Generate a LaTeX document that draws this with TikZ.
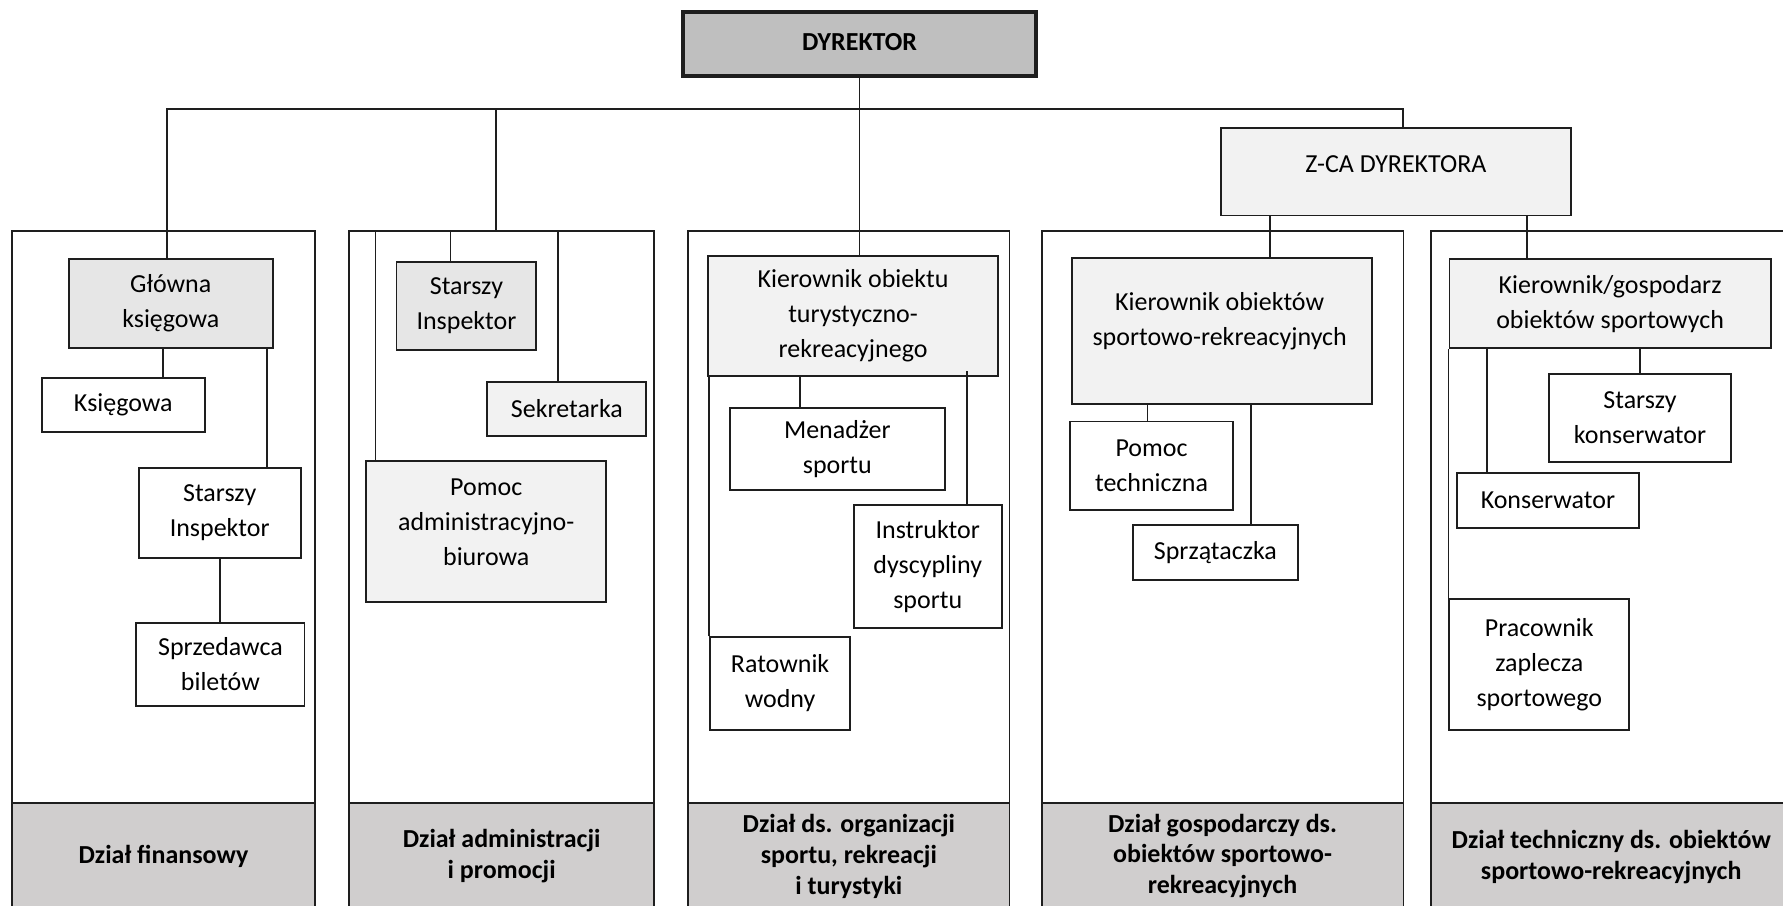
\documentclass[tikz,border=0pt]{standalone}
\usepackage{fontspec}
\setmainfont{Carlito}
\definecolor{gA}{HTML}{E6E6E6}
\definecolor{gB}{HTML}{F2F2F2}
\definecolor{gDyr}{HTML}{BFBFBF}
\definecolor{gBand}{HTML}{D0CECE}
\definecolor{ln}{HTML}{1E1E1E}
\begin{document}
\begin{tikzpicture}[x=0.5pt,y=-0.5pt,
  every path/.style={draw=ln, line width=0.95pt},
  box/.style={draw=ln, line width=0.95pt, fill=white, inner sep=0pt, align=center,
    font=\fontsize{13}{17.5}\selectfont},
  dept/.style={draw=ln, line width=0.95pt, inner sep=0pt},
  band/.style={draw=ln, line width=0.95pt, fill=gBand, inner sep=0pt, align=center,
    font=\bfseries\fontsize{13}{15.5}\selectfont},
  txt/.style={inner sep=0pt, align=center, font=\fontsize{13}{17.5}\selectfont}]
\useasboundingbox (0,0) rectangle (1783,905);
\fill[white] (0,0) rectangle (1783,905);

% departments
\node[dept, minimum width=151.25pt, minimum height=344.65pt] (d1) at (162.75,575.35) {};
\node[dept, minimum width=152.75pt, minimum height=344.65pt] (d2) at (501.25,575.35) {};
\node[dept, minimum width=160.8pt, minimum height=344.65pt] (d3) at (848.8,575.35) {};
\node[dept, minimum width=181.1pt, minimum height=344.65pt] (d4) at (1222.9,575.35) {};
\node[dept, minimum width=184.15pt, minimum height=344.65pt] (d5) at (1615.85,575.35) {};

% bands
\node[band, minimum width=151.25pt, minimum height=53pt] (b1) at (162.75,856) {Dział finansowy};
\node[band, minimum width=152.75pt, minimum height=53pt] (b2) at (501.25,856) {Dział administracji\\i promocji};
\node[band, minimum width=160.8pt, minimum height=53pt] (b3) at (848.8,856) {Dział ds. organizacji\\sportu, rekreacji\\i turystyki};
\node[band, minimum width=181.1pt, minimum height=53pt] (b4) at (1222.9,856) {Dział gospodarczy ds.\\obiektów sportowo-\\rekreacyjnych};
\node[band, minimum width=184.15pt, minimum height=53pt, text width=170pt] (b5) at (1615.85,856) {};
\node[txt, font=\bfseries\fontsize{13}{15.5}\selectfont] (b5t) at (1612,857) {Dział techniczny ds. obiektów\\sportowo-rekreacyjnych};

% top level
\node[box, fill=gDyr, line width=2pt, minimum width=176.5pt, minimum height=32pt,
  font=\bfseries\fontsize{13}{17.5}\selectfont] (dyr) at (859.5,43) {\raisebox{1.5pt}{DYREKTOR}};
\node[box, fill=gB, minimum width=175pt, minimum height=44pt] (zca) at (1396.5,170.8) {};
\node[txt] (zcat) at (1396.5,163) {Z-CA DYREKTORA};

% D1
\node[box, fill=gA, minimum width=102pt, minimum height=44.3pt] (glowna) at (170,303) {Główna\\księgowa};
\node[box, minimum width=81.5pt, minimum height=27.3pt] (ksieg) at (122.5,404.3) {Księgowa};
\node[box, minimum width=81pt, minimum height=45pt] (starszyA) at (219,512.3) {Starszy\\Inspektor};
\node[box, minimum width=84.2pt, minimum height=41.5pt] (sprzed) at (219.7,664.2) {Sprzedawca\\biletów};

% D2
\node[box, fill=gA, minimum width=70pt, minimum height=44.2pt] (starszyB) at (466,305.2) {Starszy\\Inspektor};
\node[box, fill=gB, minimum width=79.5pt, minimum height=27.3pt] (sekr) at (566.5,408.3) {Sekretarka};
\node[box, fill=gB, minimum width=120.2pt, minimum height=70.5pt] (pomadm) at (485.8,531.2) {};
\node[txt] (pomadmt) at (485.8,521.7) {Pomoc\\administracyjno-\\biurowa};

% D3
\node[box, fill=gB, minimum width=145pt, minimum height=60.2pt] (kierob) at (853,315.5) {Kierownik obiektu\\turystyczno-\\rekreacyjnego};
\node[box, minimum width=107.7pt, minimum height=41pt] (menad) at (837.3,448.3) {Menadżer\\sportu};
\node[box, minimum width=74.2pt, minimum height=61.3pt] (instr) at (927.8,566.3) {Instruktor\\dyscypliny\\sportu};
\node[box, minimum width=70pt, minimum height=46.3pt] (ratow) at (780,683.3) {Ratownik\\wodny};

% D4
\node[box, fill=gB, minimum width=150.3pt, minimum height=73.2pt] (kierobs) at (1222.1,330.2) {};
\node[txt] (kierobst) at (1220,321) {Kierownik obiektów\\sportowo-rekreacyjnych};
\node[box, minimum width=81.8pt, minimum height=44.2pt] (pomtech) at (1151.8,465.2) {Pomoc\\techniczna};
\node[box, minimum width=82.3pt, minimum height=27.2pt] (sprzat) at (1215.7,552.2) {Sprzątaczka};

% D5
\node[box, fill=gB, minimum width=160.8pt, minimum height=44.3pt] (kiergosp) at (1610.9,303) {Kierownik/gospodarz\\obiektów sportowych};
\node[box, minimum width=91pt, minimum height=44.2pt] (starszyK) at (1640.8,417.5) {Starszy\\konserwator};
\node[box, minimum width=91pt, minimum height=27.3pt] (konserw) at (1548.6,500) {Konserwator};
\node[box, minimum width=90pt, minimum height=65.3pt] (pracow) at (1540,664.3) {Pracownik\\zaplecza\\sportowego};

% connectors
\coordinate (busL) at (166,108.3);
\coordinate (busR) at (1403.5,108.3);
\coordinate (busB) at (496,108.3);
\draw (busL |- glowna.north) -- (busL) -- (busR) -- (busR |- zca.north);
\draw (dyr.south) -- (dyr.south |- kierob.north);
\draw (busB) -- (busB |- d2.north);
\draw ([xshift=-4pt]glowna.south) -- ([xshift=-4pt]glowna.south |- ksieg.north);
\draw ([xshift=48pt]glowna.south) -- ([xshift=48pt]glowna.south |- starszyA.north);
\draw (starszyA.south) -- (starszyA.south |- sprzed.north);
\draw ([xshift=-8pt]starszyB.north) -- ([xshift=-8pt]starszyB.north |- d2.north);
\draw ([xshift=-4.25pt]sekr.north) -- ([xshift=-4.25pt]sekr.north |- d2.north);
\draw ([xshift=5.15pt]pomadm.north west) -- ([xshift=5.15pt]pomadm.north west |- d2.north);
\draw ([xshift=-26.5pt]kierob.south) -- ([xshift=-26.5pt]kierob.south |- menad.north);
\draw ([xshift=19.85pt]instr.north) -- ([xshift=19.85pt,yshift=3pt]instr.north |- kierob.south);
\draw (ratow.north west) -- (ratow.north west |- kierob.south);
\draw ([xshift=23.95pt]kierobs.north) -- ([xshift=23.95pt]kierobs.north |- zca.south);
\draw ([xshift=-41.45pt]kiergosp.north) -- ([xshift=-41.45pt]kiergosp.north |- zca.south);
\draw ([xshift=-2pt]pomtech.north) -- ([xshift=-2pt]pomtech.north |- kierobs.south);
\draw ([xshift=17.9pt]sprzat.north) -- ([xshift=17.9pt]sprzat.north |- kierobs.south);
\draw (starszyK.north) -- (starszyK.north |- kiergosp.south);
\draw ([xshift=-30.5pt]konserw.north) -- ([xshift=-30.5pt]konserw.north |- kiergosp.south);
\draw (pracow.north west) -- (pracow.north west |- kiergosp.south);
\end{tikzpicture}
\end{document}
